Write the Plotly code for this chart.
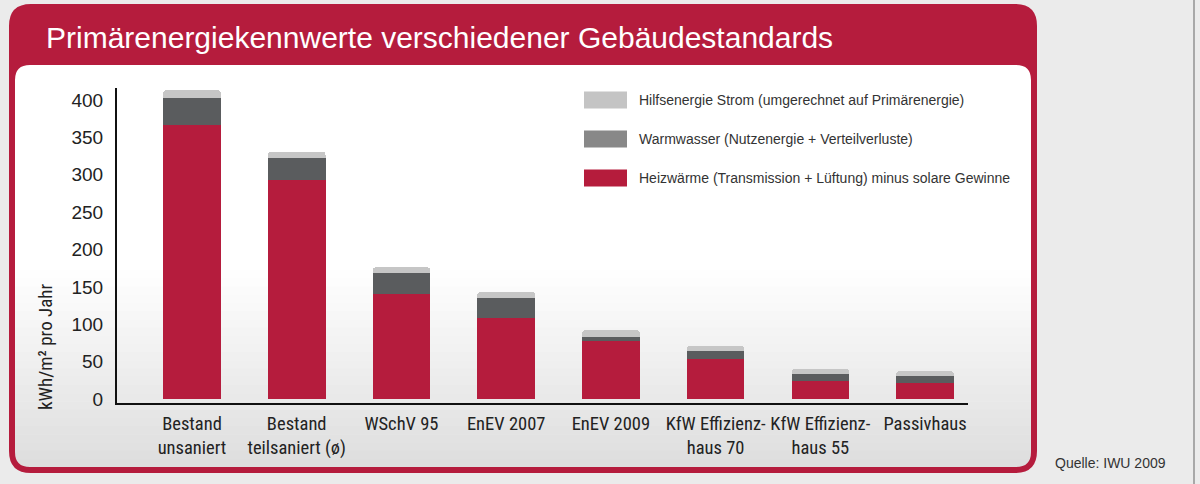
import plotly.graph_objects as go

categories = ["Bestand<br>unsaniert", "Bestand<br>teilsaniert (ø)", "WSchV 95", "EnEV 2007",
              "EnEV 2009", "KfW Effizienz-<br>haus 70", "KfW Effizienz-<br>haus 55", "Passivhaus"]
heizwaerme = [367, 293, 141, 109, 77, 54, 24, 21]
warmwasser = [36, 29, 27, 26, 6, 10, 9, 10]
hilfsenergie = [10, 9, 8, 8, 9, 7, 7, 6]
y_ticks = [0, 50, 100, 150, 200, 250, 300, 350, 400]
legend_labels = ["Hilfsenergie Strom (umgerechnet auf Primärenergie)",
                 "Warmwasser (Nutzenergie + Verteilverluste)",
                 "Heizwärme (Transmission + Lüftung) minus solare Gewinne"]

RED = "#b51c3d"
DARK = "#5a5c5e"
LIGHT = "#c6c6c6"
LEG_COLORS = ["#c4c4c4", "#888888", "#b51c3c"]
NARROW = "Liberation Sans Narrow, Roboto Condensed, Open Sans, sans-serif"
REG = "Liberation Sans, Arial, sans-serif"

# plot area in pixels
L, R, T, B = 117, 968, 88, 403
W, H = 1200, 484


def px(x):
    return (x - L) / (R - L)


def py(y):
    return (B - y) / (B - T)


def rrect(x0, y0, x1, y1, r):
    return (f"M {px(x0 + r)},{py(y0)} L {px(x1 - r)},{py(y0)} "
            f"Q {px(x1)},{py(y0)} {px(x1)},{py(y0 + r)} "
            f"L {px(x1)},{py(y1 - r)} Q {px(x1)},{py(y1)} {px(x1 - r)},{py(y1)} "
            f"L {px(x0 + r)},{py(y1)} Q {px(x0)},{py(y1)} {px(x0)},{py(y1 - r)} "
            f"L {px(x0)},{py(y0 + r)} Q {px(x0)},{py(y0)} {px(x0 + r)},{py(y0)} Z")


fig = go.Figure()
fig.add_trace(go.Bar(x=categories, y=heizwaerme, marker=dict(color=RED, line=dict(width=0)),
                     name=legend_labels[2], showlegend=False, width=0.55))
fig.add_trace(go.Bar(x=categories, y=warmwasser, marker=dict(color=DARK, line=dict(width=0)),
                     name=legend_labels[1], showlegend=False, width=0.55))
fig.add_trace(go.Bar(x=categories, y=hilfsenergie, marker=dict(color=LIGHT, line=dict(width=0)),
                     name=legend_labels[0], showlegend=False, width=0.55))

shapes = []
shapes.append(dict(type="rect", xref="paper", yref="paper", x0=px(15), x1=px(1031), y0=py(65), y1=py(467),
                   fillcolor="#ffffff", line=dict(width=0), layer="below"))
n = 24
y_start, y_end = 270, 467
for i in range(n):
    ya = y_start + (y_end - y_start) * i / n
    yb = y_start + (y_end - y_start) * (i + 1) / n
    t = (i + 0.5) / n
    g = int(round(255 - (255 - 221) * t))
    shapes.append(dict(type="rect", xref="paper", yref="paper", x0=px(15), x1=px(1031), y0=py(ya), y1=py(yb + 0.5),
                       fillcolor=f"rgb({g},{g},{g})", line=dict(width=0), layer="below"))
frame = rrect(9, 4, 1037, 473, 22) + " " + rrect(15, 65, 1031, 467, 15)
shapes.append(dict(type="path", xref="paper", yref="paper", path=frame, fillcolor=RED,
                   line=dict(width=0), fillrule="evenodd", layer="below"))
shapes.append(dict(type="line", xref="paper", yref="paper", x0=px(1194), x1=px(1194), y0=py(0), y1=py(484),
                   line=dict(color="#a8a8a8", width=2), layer="below"))
leg_y = [100, 139, 178]
for col, yy in zip(LEG_COLORS, leg_y):
    shapes.append(dict(type="rect", xref="paper", yref="paper", x0=px(584), x1=px(627), y0=py(yy - 8.5),
                       y1=py(yy + 8.5), fillcolor=col, line=dict(width=0)))

annotations = []
for lab, yy in zip(legend_labels, leg_y):
    annotations.append(dict(text=lab, xref="paper", yref="paper", x=px(637), y=py(yy), xanchor="left",
                            yanchor="middle", showarrow=False, font=dict(size=14, color="#333333", family=REG)))
annotations.append(dict(text="Primärenergiekennwerte verschiedener Gebäudestandards", xref="paper", yref="paper",
                        x=px(44), y=py(38), xanchor="left", yanchor="middle", showarrow=False,
                        font=dict(size=30, color="#ffffff", family=REG)))
annotations.append(dict(text="kWh/m² pro Jahr", xref="paper", yref="paper", x=px(45), y=py(347),
                        xanchor="center", yanchor="middle", textangle=-90, showarrow=False,
                        font=dict(size=19, color="#222222", family=NARROW)))
annotations.append(dict(text="Quelle: IWU 2009", xref="paper", yref="paper", x=px(1053), y=py(463),
                        xanchor="left", yanchor="middle", showarrow=False,
                        font=dict(size=14, color="#333333", family=REG)))

fig.update_layout(
    width=W, height=H,
    margin=dict(l=L, r=W - R, t=T, b=H - B),
    paper_bgcolor="#ebebeb", plot_bgcolor="rgba(0,0,0,0)",
    barmode="stack", barcornerradius=3,
    shapes=shapes, annotations=annotations,
    showlegend=False,
    xaxis=dict(range=[-0.716, 7.41], showline=True, linecolor="#111111", linewidth=2, showgrid=False,
               ticks="", ticklabelstandoff=3, tickfont=dict(size=18.5, color="#222222", family=NARROW),
               fixedrange=True),
    yaxis=dict(range=[-5.3, 416], showline=True, linecolor="#111111", linewidth=2, showgrid=False,
               zeroline=False, tickvals=y_ticks, ticks="", ticklabelstandoff=8,
               tickfont=dict(size=19, color="#222222", family=REG), fixedrange=True),
)

fig.write_html("out.html")
